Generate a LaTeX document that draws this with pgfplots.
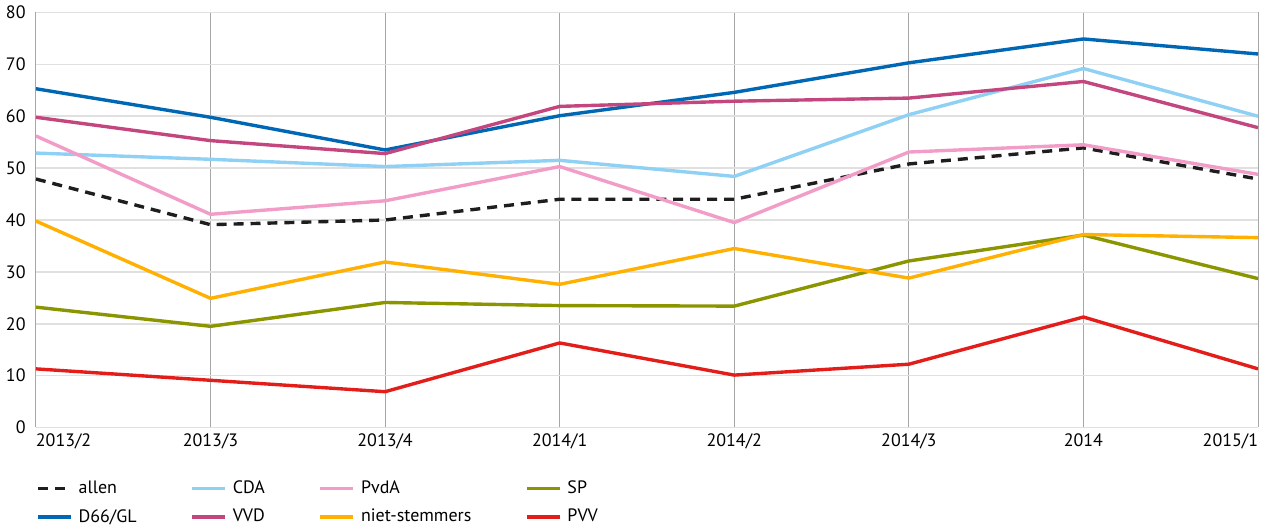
\documentclass[border=0pt]{standalone}
\usepackage{fontspec}
\setmainfont{PT Sans}
\usepackage{pgfplots}
\pgfplotsset{compat=1.18}
\definecolor{cAllen}{HTML}{1E1E1E}
\definecolor{cCDA}{HTML}{8FD1F5}
\definecolor{cPvdA}{HTML}{F29CC8}
\definecolor{cSP}{HTML}{8A9500}
\definecolor{cD66}{HTML}{0067B4}
\definecolor{cVVD}{HTML}{C4467E}
\definecolor{cNiet}{HTML}{FFB000}
\definecolor{cPVV}{HTML}{E31E1A}
\begin{document}
\fontsize{9pt}{10pt}\selectfont
\begin{tikzpicture}
\begin{axis}[
  scale only axis, width=612.5pt, height=208pt,
  xmin=0, xmax=7, ymin=0, ymax=80,
  xtick={0,...,7},
  xticklabels={\rlap{2013/2},2013/3,2013/4,2014/1,2014/2,2014/3,2014,\llap{2015/1}},
  ytick={0,10,...,80},
  yticklabel style={xshift=-2pt},
  /pgf/number format/assume math mode=true,
  axis line style={draw=none},
  tick style={draw=none},
  xmajorgrids, ymajorgrids,
  x grid style={draw=black!35, line width=0.5pt},
  y grid style={draw=black!12, line width=0.8pt},
  every axis plot/.append style={line width=1.7pt, line join=round},
  legend columns=4,
  legend cell align=left,
  legend style={draw=none, fill=none, at={(axis description cs:0,0)}, anchor=north west,
    yshift=-23.5pt, xshift=-1pt, row sep=2.5pt, inner sep=1pt,
    /tikz/every odd column/.append style={column sep=1pt},
    /tikz/every even column/.append style={column sep=25pt}},
  legend image code/.code={\draw[#1] (0pt,0pt) -- (16.5pt,0pt);},
]
\addplot[cAllen, dash pattern=on 5pt off 3.5pt] coordinates {(0,47.9) (1,39.1) (2,40.0) (3,44.0) (4,44.0) (5,50.8) (6,53.9) (7,47.9)};
\addlegendentry{allen}
\addplot[cCDA] coordinates {(0,52.9) (1,51.7) (2,50.3) (3,51.5) (4,48.4) (5,60.3) (6,69.2) (7,60.0)};
\addlegendentry{CDA}
\addplot[cPvdA] coordinates {(0,56.2) (1,41.1) (2,43.7) (3,50.3) (4,39.5) (5,53.1) (6,54.5) (7,48.8)};
\addlegendentry{PvdA}
\addplot[cSP] coordinates {(0,23.2) (1,19.5) (2,24.1) (3,23.5) (4,23.4) (5,32.1) (6,37.1) (7,28.7)};
\addlegendentry{SP}
\addplot[cD66] coordinates {(0,65.3) (1,59.8) (2,53.5) (3,60.1) (4,64.6) (5,70.3) (6,74.9) (7,72.0)};
\addlegendentry{D66/GL}
\addplot[cVVD] coordinates {(0,59.8) (1,55.3) (2,52.8) (3,61.9) (4,62.9) (5,63.5) (6,66.7) (7,57.8)};
\addlegendentry{VVD}
\addplot[cNiet] coordinates {(0,39.8) (1,24.9) (2,31.9) (3,27.6) (4,34.5) (5,28.8) (6,37.2) (7,36.6)};
\addlegendentry{niet-stemmers}
\addplot[cPVV] coordinates {(0,11.3) (1,9.1) (2,6.9) (3,16.3) (4,10.1) (5,12.2) (6,21.3) (7,11.3)};
\addlegendentry{PVV}
\end{axis}
\end{tikzpicture}
\end{document}
